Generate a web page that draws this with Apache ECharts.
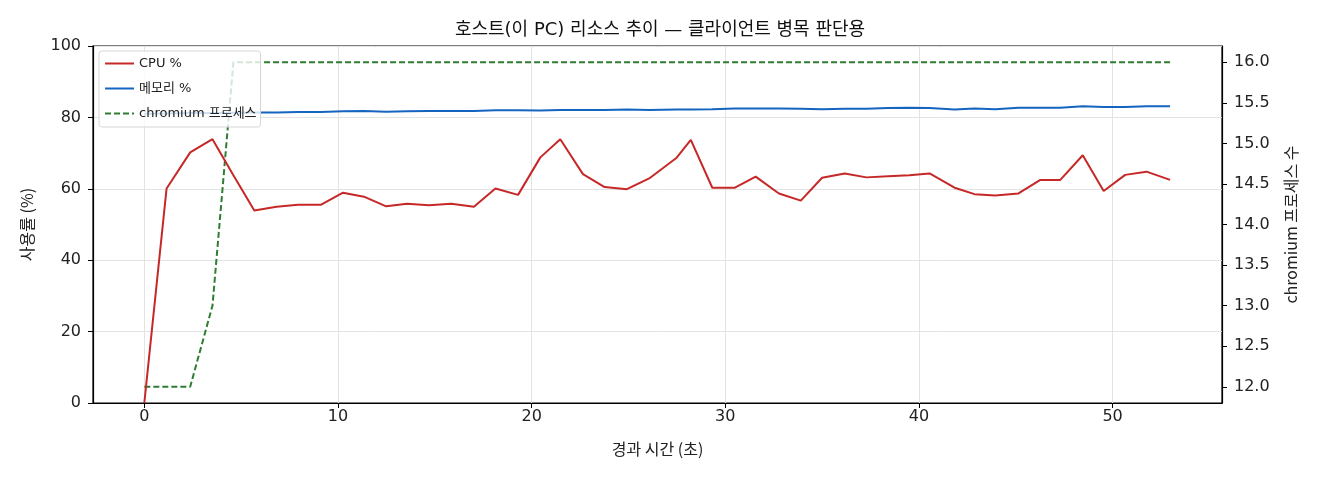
<!DOCTYPE html>
<html>
<head>
<meta charset="utf-8">
<script src="https://cdn.jsdelivr.net/npm/echarts@6/dist/echarts.min.js"></script>
<style>
  html, body { margin: 0; padding: 0; background: #fff; }
  #myChart { width: 1320px; height: 480px; }
</style>
</head>
<body>
<div id="myChart"></div>
<script>
// elapsed seconds of each sample
var times = [0, 1.15, 2.37, 3.52, 4.6, 5.68, 6.83, 7.94, 9.11, 10.26, 11.34, 12.49,
  13.57, 14.69, 15.85, 17.02, 18.13, 19.3, 20.45, 21.48, 22.65, 23.77, 24.92, 26.07,
  27.49, 28.22, 29.33, 30.5, 31.57, 32.77, 33.9, 35.0, 36.17, 37.29, 38.4, 39.5,
  40.55, 41.84, 42.87, 43.94, 45.14, 46.27, 47.3, 48.46, 49.54, 50.65, 51.75, 52.97];

var cpu = [0, 60.1, 70.2, 73.9, 63.8, 53.9, 55.0, 55.5, 55.5, 58.9, 57.8, 55.1,
  55.8, 55.4, 55.8, 55.0, 60.1, 58.3, 68.8, 73.9, 64.1, 60.5, 59.9, 62.9,
  68.7, 73.7, 60.3, 60.3, 63.4, 58.7, 56.7, 63.1, 64.3, 63.2, 63.5, 63.8,
  64.3, 60.3, 58.5, 58.1, 58.7, 62.5, 62.5, 69.4, 59.4, 63.9, 64.8, 62.5];

var mem = [81.0, 81.1, 81.2, 81.2, 81.3, 81.4, 81.4, 81.5, 81.5, 81.7, 81.8, 81.6,
  81.7, 81.8, 81.8, 81.8, 82.0, 82.0, 81.9, 82.1, 82.1, 82.1, 82.2, 82.1,
  82.2, 82.2, 82.3, 82.5, 82.5, 82.5, 82.4, 82.3, 82.4, 82.4, 82.6, 82.7,
  82.6, 82.2, 82.5, 82.3, 82.7, 82.7, 82.7, 83.1, 82.9, 82.9, 83.1, 83.1];

var procs = [12, 12, 12, 13, 16, 16, 16, 16, 16, 16, 16, 16,
  16, 16, 16, 16, 16, 16, 16, 16, 16, 16, 16, 16,
  16, 16, 16, 16, 16, 16, 16, 16, 16, 16, 16, 16,
  16, 16, 16, 16, 16, 16, 16, 16, 16, 16, 16, 16];

// tick labels
var xTicks = [0, 10, 20, 30, 40, 50];
var procTicks = [12, 12.5, 13, 13.5, 14, 14.5, 15, 15.5, 16];

function pairs(vals) {
  return times.map(function (t, i) { return [t, vals[i]]; });
}

var FONT = '"DejaVu Sans", "Noto Sans CJK KR", sans-serif';
var KFONT = '"Noto Sans CJK KR", "DejaVu Sans", sans-serif';

var myChart = echarts.init(document.getElementById('myChart'));
var option = {
  animation: false,
  textStyle: { fontFamily: FONT },
  title: {
    text: '호스트(이 PC) 리소스 추이 — 클라이언트 병목 판단용',
    left: 'center',
    top: 16,
    textStyle: { fontSize: 18, fontWeight: 'normal', color: '#111', fontFamily: FONT }
  },
  legend: {
    orient: 'vertical',
    left: 99,
    top: 51,
    padding: [6, 4, 7, 5],
    itemGap: 12,
    itemWidth: 29,
    itemHeight: 12,
    backgroundColor: 'rgba(255,255,255,0.8)',
    borderColor: '#d6d6d6',
    borderWidth: 1,
    borderRadius: 3,
    itemStyle: { opacity: 0 },
    textStyle: { fontSize: 13, color: '#222', fontFamily: FONT },
    data: ['CPU %', '메모리 %', 'chromium 프로세스']
  },
  grid: {
    left: 93, right: 98, top: 46, bottom: 77,
    show: true, borderColor: '#000', borderWidth: 1.2
  },
  xAxis: {
    type: 'value',
    min: -2.65, max: 55.65,
    name: '경과 시간 (초)',
    nameLocation: 'middle',
    nameGap: 38,
    nameTextStyle: { fontSize: 16, color: '#222', fontFamily: KFONT },
    axisLine: { onZero: false, lineStyle: { color: '#000', width: 1.2 } },
    axisTick: { show: true, length: 5, customValues: xTicks, lineStyle: { color: '#000' } },
    axisLabel: { fontSize: 16, color: '#222', margin: 6, customValues: xTicks },
    splitLine: { show: true, lineStyle: { color: '#e3e3e3', width: 1 } }
  },
  yAxis: [
    {
      type: 'value',
      min: 0, max: 100, interval: 20,
      name: '사용률 (%)',
      nameLocation: 'middle',
      nameGap: 58,
      nameTextStyle: { fontSize: 16, color: '#222', fontFamily: KFONT },
      axisLine: { show: true, onZero: false, lineStyle: { color: '#000', width: 1.2 } },
      axisTick: { show: true, length: 5, lineStyle: { color: '#000' } },
      axisLabel: { fontSize: 16, color: '#222', margin: 12 },
      splitLine: { show: true, lineStyle: { color: '#e3e3e3', width: 1 } }
    },
    {
      type: 'value',
      position: 'right',
      min: 11.8, max: 16.2,
      name: 'chromium 프로세스 수',
      nameLocation: 'middle',
      nameGap: 61,
      nameRotate: 90,
      nameTextStyle: { fontSize: 16, color: '#222', fontFamily: KFONT },
      axisLine: { show: true, onZero: false, lineStyle: { color: '#000', width: 1.2 } },
      axisTick: { show: true, length: 5, customValues: procTicks, lineStyle: { color: '#000' } },
      axisLabel: {
        fontSize: 16, color: '#222', margin: 12,
        customValues: procTicks,
        formatter: function (v) { return v.toFixed(1); }
      },
      splitLine: { show: false }
    }
  ],
  series: [
    {
      name: 'CPU %',
      type: 'line',
      yAxisIndex: 0,
      symbol: 'none',
      color: '#c62828',
      lineStyle: { width: 2, color: '#c62828' },
      data: pairs(cpu),
      z: 3
    },
    {
      name: '메모리 %',
      type: 'line',
      yAxisIndex: 0,
      symbol: 'none',
      color: '#1565c0',
      lineStyle: { width: 2, color: '#1565c0' },
      data: pairs(mem),
      z: 3
    },
    {
      name: 'chromium 프로세스',
      type: 'line',
      yAxisIndex: 1,
      symbol: 'none',
      color: '#2e7d32',
      lineStyle: { width: 2, color: '#2e7d32', type: [6, 3] },
      data: pairs(procs),
      z: 2
    }
  ]
};
myChart.setOption(option);
</script>
</body>
</html>
